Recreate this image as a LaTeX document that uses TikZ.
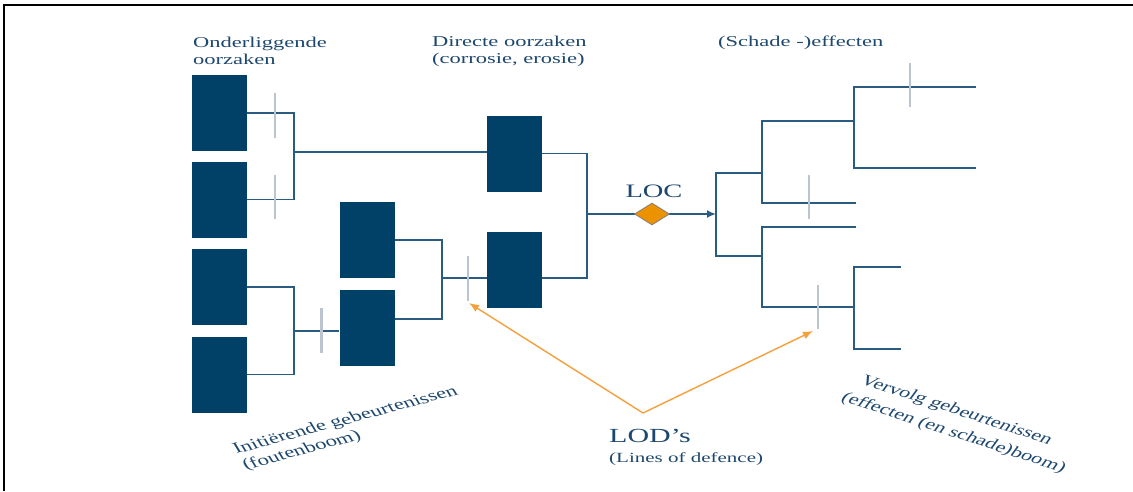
\documentclass[tikz,border=0pt]{standalone}
\usepackage{fontspec}
\setmainfont{Liberation Serif}
\usetikzlibrary{shapes.geometric,arrows.meta}
\definecolor{boxblue}{RGB}{2,65,103}
\definecolor{linkblue}{RGB}{42,92,130}
\definecolor{txtblue}{RGB}{30,72,110}
\definecolor{tickgray}{RGB}{188,196,208}
\definecolor{lodorange}{RGB}{245,160,60}
\definecolor{locorange}{RGB}{236,145,0}
\newcommand{\wide}[1]{\scalebox{1.5}[1]{#1}}
\begin{document}
\begin{tikzpicture}[x=1pt,y=-1pt,
  cbox/.style={rectangle, fill=boxblue, minimum width=55pt, minimum height=76pt, inner sep=0pt},
  conn/.style={draw=linkblue, line width=1.8pt},
  tickmark/.style={draw=tickgray, line width=2.3pt},
  lodline/.style={draw=lodorange, line width=1.4pt, -{Latex[length=10pt,width=8pt]}},
  lbl/.style={text=txtblue, inner sep=0pt, font=\fontsize{15}{17}\selectfont},
]
\useasboundingbox (0,0) rectangle (1133,491);
\fill[white] (0,0) rectangle (1133,491);
\draw[line width=2pt] (4,491) -- (4,5) -- (1133,5);

% boxes
\node[cbox] (A1) at (219,113) {};
\node[cbox] (A2) at (219,199.5) {};
\node[cbox] (A3) at (219,287) {};
\node[cbox] (A4) at (219,374.5) {};
\node[cbox] (M1) at (367,240) {};
\node[cbox] (M2) at (367,328) {};
\node[cbox] (D1) at (514.5,153.5) {};
\node[cbox] (D2) at (514.5,270) {};

% junctions
\coordinate (jA) at (294,152);
\coordinate (jB) at (294,331);
\coordinate (jC) at (442,278);
\coordinate (jD) at (587,214);
\coordinate (jE) at (716,214);
\coordinate (jF) at (762,173);
\coordinate (jG) at (854,121);
\coordinate (jH) at (762,256);
\coordinate (jI) at (854,307);
\coordinate (e1) at (976,87);
\coordinate (e2) at (976,168);
\coordinate (e3) at (856,203);
\coordinate (e4) at (856,227);
\coordinate (e5) at (901,267);
\coordinate (e6) at (901,349);

% left fault tree
\draw[conn] (A1.east) -| (jA) |- (A2.east);
\draw[conn] (jA) -- (jA -| D1.west);
\draw[conn] (A3.east) -| (jB) |- (A4.east);
\draw[conn] (jB) -- (jB -| M2.west);
\draw[conn] (M1.east) -| (jC) |- ([yshift=9pt]M2.east);
\draw[conn] (jC) -- (jC -| D2.west);
\draw[conn] (D1.east) -| (jD) |- (jC -| D2.east);

% LOC
\draw[conn, -{Latex[length=9pt,width=8pt]}] (jD) -- (jE);
\node[diamond, fill=locorange, draw=gray, line width=0.8pt, minimum width=35pt, minimum height=22pt, inner sep=0pt] (dia) at (652,214) {};
\node[lbl, font=\fontsize{19}{21}\selectfont, anchor=base] (loc) at (654,197) {\wide{LOC}};

% right event tree
\draw[conn] (jF) -| (jE) |- (jH);
\draw[conn] (jG) -| (jF) |- (e3);
\draw[conn] (e1) -| (jG) |- (e2);
\draw[conn] (e4) -| (jH) |- (jI);
\draw[conn] (e5) -| (jI) |- (e6);

% barriers (ticks)
\draw[tickmark] (275,93) -- (275,138);
\draw[tickmark] (275,175) -- (275,219);
\draw[tickmark] (321.5,308) -- (321.5,353);
\draw[tickmark] (468,256) -- (468,301);
\draw[tickmark] (910,63) -- (910,107);
\draw[tickmark] (809,175) -- (809,219);
\draw[tickmark] (818,285) -- (818,329);

% LOD arrows
\coordinate (lodtip) at (643,413);
\coordinate (t4b) at (469,303);
\coordinate (t7b) at (813,331);
\draw[lodline] (lodtip) -- (t4b);
\draw[lodline] (lodtip) -- (t7b);

% labels
\node[lbl, anchor=base west] (t1) at (193,47) {\wide{\begin{tabular}[t]{@{}l@{}}Onderliggende\\oorzaken\end{tabular}}};
\node[lbl, anchor=base west] (t2) at (432,46) {\wide{\begin{tabular}[t]{@{}l@{}}Directe oorzaken\\(corrosie, erosie)\end{tabular}}};
\node[lbl, anchor=base west] (t3) at (718,46) {\wide{(Schade -)effecten}};
\node[lbl, font=\fontsize{20}{22}\selectfont, anchor=base west] (lod) at (609,442) {\wide{LOD’s}};
\node[lbl, font=\fontsize{14}{16}\selectfont, anchor=base west] (lodsub) at (609,462) {\wide{(Lines of defence)}};

\begin{scope}[shift={(236,454)}]
\node[lbl, anchor=base west, cm={1.41,0.378,-0.567,0.94,(0,0)}] (t6) at (0,0) {\begin{tabular}[t]{@{}l@{}}Initiërende gebeurtenissen\\(foutenboom)\end{tabular}};
\end{scope}
\begin{scope}[shift={(859,383)}]
\node[lbl, anchor=base west, font=\fontsize{15}{21}\selectfont, cm={1.348,-0.438,0.657,0.899,(0,0)}] (t7) at (0,0) {\begin{tabular}[t]{@{}l@{}}Vervolg gebeurtenissen\\\kern-4pt(effecten (en schade)boom)\end{tabular}};
\end{scope}
\end{tikzpicture}
\end{document}
